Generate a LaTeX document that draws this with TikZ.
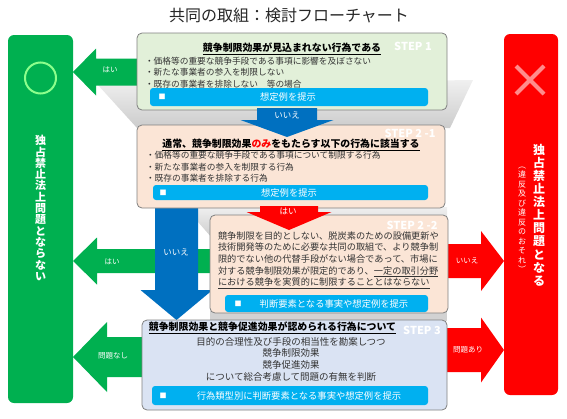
\documentclass[tikz,border=0pt]{standalone}
\usepackage{fontspec}
\setmainfont{Noto Sans CJK JP}
\usetikzlibrary{calc}

\definecolor{okgreen}{HTML}{00B050}
\definecolor{ngred}{HTML}{FF0000}
\definecolor{flowblue}{HTML}{0070C0}
\definecolor{barblue}{HTML}{00B0F0}
\definecolor{sonefill}{HTML}{E2F0D9}
\definecolor{stwofill}{HTML}{FBE5D6}
\definecolor{sthreefill}{HTML}{DAE3F3}

% block arrow: colour, tip, direction, length, head length, shaft half width, head half width
\newcommand{\blockarrow}[7]{%
  \fill[#1, shift={(#2)}, rotate=#3] (0,0) -- (-#5,#7) -- (-#5,#6) -- (-#4,#6)
    -- (-#4,-#6) -- (-#5,-#6) -- (-#5,-#7) -- cycle;}

\begin{document}
\begin{tikzpicture}[x=1pt, y=-1pt,
  every node/.style={inner sep=0pt, outer sep=0pt},
  stepbox/.style={draw=gray, line width=0.8pt, rounded corners=5pt},
  sidebar/.style={rounded corners=6pt},
  hintbar/.style={fill=barblue, rounded corners=3pt},
  hinttext/.style={text=white, font=\fontsize{9.3}{11}\selectfont},
  steptag/.style={text=white, font=\bfseries\fontsize{11}{12}\selectfont},
  steptitle/.style={text=black, font=\bfseries\fontsize{9.9}{12}\selectfont},
  body/.style={text=black!80, align=left, font=\fontsize{8.7}{11.6}\selectfont},
  arrowlabel/.style={text=white, font=\fontsize{7.5}{9}\selectfont},
  funnel/.style={top color=gray!12, bottom color=gray!40, draw=none}]

\useasboundingbox (0,0) rectangle (567,418);

% title
\node[font=\fontsize{16}{18}\selectfont, text=black!85] (title) at (289,15) {共同の取組：検討フローチャート};

% funnels behind the steps
\shade[funnel] (98,85) -- (473,80) -- (450,128) -- (137,128) -- cycle;
\shade[funnel] (185,207) -- (447,207) -- (447,225) -- (212,238) -- cycle;
\fill[gray!35] (210,311) -- (447,311) -- (447,321) -- (210,321) -- cycle;

% result bars
\node[sidebar, fill=okgreen, minimum width=65pt, minimum height=368pt] (ok) at (40.5,219) {};
\node[sidebar, fill=ngred, minimum width=54pt, minimum height=361pt] (ng) at (531,214.5) {};
\draw[green!45!white, line width=2pt] (40.5,78) circle (15.5);
\draw[red!45!white, line width=4pt] (516,66) -- (544,94) (544,66) -- (516,94);
\node[text=white, align=center, font=\bfseries\fontsize{11}{11.3}\selectfont] (oktext) at (40.5,208)
  {独\\占\\禁\\止\\法\\上\\問\\題\\と\\な\\ら\\な\\い};
\node[text=white, align=center, font=\bfseries\fontsize{12}{13.1}\selectfont] (ngtext) at (539,215)
  {独\\占\\禁\\止\\法\\上\\問\\題\\と\\な\\る};
\node[text=white, align=center, font=\fontsize{8}{9.5}\selectfont] (ngnote) at (522,220)
  {︵\\違\\反\\及\\び\\違\\反\\の\\お\\そ\\れ\\︶};

% arrows to the result bars
\blockarrow{okgreen}{ok.east |- 0,72}{180}{66}{23}{13.5}{23.5}
\blockarrow{okgreen}{ok.east |- 0,261}{180}{139}{24}{12}{23.5}
\blockarrow{okgreen}{ok.east |- 0,357}{180}{77}{34}{20}{35}
\blockarrow{flowblue}{176.5,320}{-90}{115}{30}{21.5}{36}
\blockarrow{ngred}{ng.west |- 0,261}{0}{63}{23}{17}{30}
\blockarrow{ngred}{ng.west |- 0,350}{0}{63}{23}{22}{32.5}

\node[arrowlabel] (yes1) at (110,70) {はい};
\node[arrowlabel] (yes3) at (112,262) {はい};
\node[arrowlabel] (fine) at (113,356) {問題なし};
\node[arrowlabel, font=\fontsize{8.5}{10}\selectfont] (no2) at (176,252) {いいえ};
\node[arrowlabel] (no3) at (467,261) {いいえ};
\node[arrowlabel] (bad) at (468,350) {問題あり};

% steps
\node[stepbox, fill=sonefill, minimum width=310pt, minimum height=77pt] (s1) at (292,71.5) {};
\node[stepbox, fill=stwofill, minimum width=308pt, minimum height=83pt] (s21) at (291,166.5) {};
\node[stepbox, fill=stwofill, minimum width=238pt, minimum height=98pt] (s22) at (329,264) {};
\node[stepbox, fill=sthreefill, minimum width=305pt, minimum height=90pt] (s3) at (294.5,365) {};

% arrows between steps
\blockarrow{flowblue}{287,137}{-90}{29}{17}{30}{46.5}
\blockarrow{ngred}{289,230}{-90}{24}{18}{29}{42.5}
\node[arrowlabel, font=\fontsize{8.5}{10}\selectfont] (no1) at (287,115) {いいえ};
\node[arrowlabel, font=\fontsize{8.5}{10}\selectfont] (yes2) at (288,211) {はい};

% STEP 1
\node[steptag] (t1) at (413,46) {STEP 1};
\node[steptitle] (h1) at (292,49) {\underline{競争制限効果が見込まれない行為である}};
\node[body, anchor=west] (l1) at (145,72.5)
  {・価格等の重要な競争手段である事項に影響を及ぼさない\\・新たな事業者の参入を制限しない\\・既存の事業者を排除しない　等の場合};
\node[hintbar, minimum width=278pt, minimum height=18pt] (b1) at (289,97) {};
\node[text=white, font=\fontsize{7}{8}\selectfont] at (162,97) {■};
\node[hinttext] at (288,97) {想定例を提示};

% STEP 2-1
\node[steptag] (t21) at (410,133) {STEP 2 -1};
\node[steptitle] (h21) at (291,145) {\underline{通常、競争制限効果\textcolor{ngred}{のみ}をもたらす以下の行為に該当する}};
\node[body, anchor=west] (l21) at (146,167)
  {・価格等の重要な競争手段である事項について制限する行為\\・新たな事業者の参入を制限する行為\\・既存の事業者を排除する行為};
\node[hintbar, minimum width=275pt, minimum height=15pt] (b2) at (290.5,192.5) {};
\node[text=white, font=\fontsize{7}{8}\selectfont] at (163,192.5) {■};
\node[hinttext] at (289,192.5) {想定例を提示};

% STEP 2-2
\node[steptag] (t22) at (412,225) {STEP 2 -2};
\node[body, anchor=west, font=\fontsize{9.2}{11.6}\selectfont] (l22) at (218,260)
  {競争制限を目的としない、脱炭素のための設備更新や\\技術開発等のために必要な共同の取組で、より競争制\\限的でない他の代替手段がない場合であって、市場に\\対する競争制限効果が限定的であり、\underline{一定の取引分野}\\\underline{における競争を実質的に制限することとはならない}};
\node[hintbar, minimum width=203pt, minimum height=17pt] (b3) at (326.5,303.5) {};
\node[text=white, font=\fontsize{7}{8}\selectfont] at (238,303.5) {■};
\node[hinttext] at (334,303.5) {判断要素となる事実や想定例を提示};

% STEP 3
\node[steptag] (t3) at (422,330) {STEP 3};
\node[steptitle] (h3) at (272.5,328) {\underline{競争制限効果と競争促進効果が認められる行為について}};
\node[body, align=center, font=\fontsize{9.5}{11.7}\selectfont] (l3) at (291,359)
  {目的の合理性及び手段の相当性を勘案しつつ\\競争制限効果\\競争促進効果\\について総合考慮して問題の有無を判断};
\node[hintbar, minimum width=276pt, minimum height=19pt] (b4) at (290,395.5) {};
\node[text=white, font=\fontsize{7}{8}\selectfont] at (163,395.5) {■};
\node[hinttext] at (299,395.5) {行為類型別に判断要素となる事実や想定例を提示};

\end{tikzpicture}
\end{document}
